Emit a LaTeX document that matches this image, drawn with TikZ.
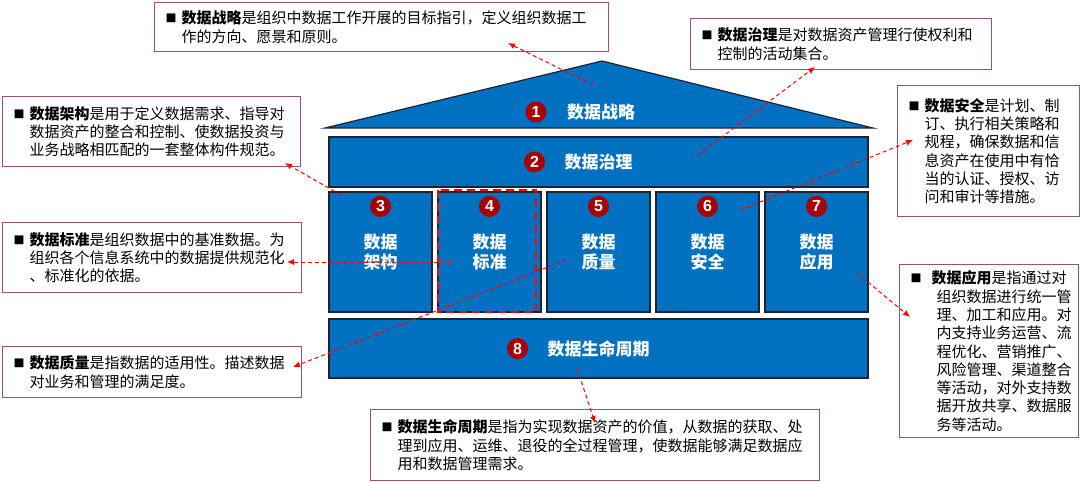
\documentclass[tikz,border=0pt]{standalone}
\usepackage{fontspec}
\setmainfont{Noto Sans CJK SC}
\newfontfamily\numfont{Liberation Sans}
\usetikzlibrary{arrows.meta}
\definecolor{houseblue}{RGB}{0,112,192}
\definecolor{houseline}{RGB}{28,36,52}
\definecolor{ballred}{RGB}{168,0,0}
\definecolor{boxline}{RGB}{150,82,122}
\newcommand{\dbullet}[1][16pt]{\makebox[#1][l]{\raisebox{1pt}{\fontsize{11}{11}\selectfont ■}}}
\newcommand{\descindent}[1][16pt]{\hspace*{#1}}

\begin{document}
\begin{tikzpicture}[x=1pt,y=-1pt,
	block/.style={draw=houseline,line width=1.2pt,fill=houseblue,text=white,font=\fontsize{17}{20}\selectfont\bfseries,inner sep=0pt},
	title/.style={text=white,font=\fontsize{17}{20}\selectfont\bfseries,inner sep=0pt},
	ball/.style={circle,fill=ballred,text=white,font=\numfont\bfseries\fontsize{16}{16}\selectfont,minimum size=21pt,inner sep=0pt},
	desc/.style={draw=boxline,line width=1.2pt,fill=white,anchor=north west,align=left,inner xsep=11pt,inner ysep=0pt,font=\fontsize{15}{18.3}\selectfont},
	link/.style={red,line width=1pt,dash pattern=on 4pt off 3pt,-{Latex[length=7pt,width=6pt]}}]

	\fill[white] (0,0) rectangle (1080,482);
	\useasboundingbox (0,0) rectangle (1080,482);

	% house
	\draw[block] (325,128) coordinate (roofL) -- (602,61) coordinate (roofT) -- (873,128) coordinate (roofR) -- cycle;
	\node[title] (strat) at (601,112) {数据战略};
	\node[ball] (n1) at ([xshift=-65pt]strat.center) {1};

	\node[block,minimum width=539pt,minimum height=50pt] (gov) at (598.5,162) {数据治理};
	\node[ball] (n2) at ([xshift=-64pt]gov.center) {2};

	\node[block,minimum width=103pt,minimum height=120pt,align=center] (arch) at (380.5,252) {数据\\架构};
	\node[block,minimum width=103pt,minimum height=120pt,align=center] (std) at (489.5,252) {数据\\标准};
	\node[block,minimum width=103pt,minimum height=120pt,align=center] (qual) at (598.5,252) {数据\\质量};
	\node[block,minimum width=103pt,minimum height=120pt,align=center] (sec) at (707.5,252) {数据\\安全};
	\node[block,minimum width=103pt,minimum height=120pt,align=center] (app) at (816.5,252) {数据\\应用};
	\node[ball] (n3) at ([yshift=-15pt]arch.north) {3};
	\node[ball] (n4) at ([yshift=-15pt]std.north) {4};
	\node[ball] (n5) at ([yshift=-15pt]qual.north) {5};
	\node[ball] (n6) at ([yshift=-15pt]sec.north) {6};
	\node[ball] (n7) at ([yshift=-15pt]app.north) {7};

	\node[block,minimum width=539pt,minimum height=59pt] (life) at (598.5,348.5) {数据生命周期};
	\node[ball] (n8) at ([xshift=-81pt]life.center) {8};

	\draw[red,line width=2.5pt,dash pattern=on 8pt off 5pt] (438,190) rectangle (536,312);

	% descriptions
	\node[desc,text width=432pt,minimum height=49pt] (stratdesc) at (154,2)
		{\dbullet\textbf{数据战略}是组织中数据工作开展的目标指引，定义组织数据工\\
		\descindent 作的方向、愿景和原则。};
	\node[desc,text width=279pt,minimum height=51pt] (govdesc) at (690,18)
		{\dbullet\textbf{数据治理}是对数据资产管理行使权利和\\
		\descindent 控制的活动集合。};
	\node[desc,text width=276pt,minimum height=70pt] (archdesc) at (2,96)
		{\dbullet\textbf{数据架构}是用于定义数据需求、指导对\\
		\descindent 数据资产的整合和控制、使数据投资与\\
		\descindent 业务战略相匹配的一套整体构件规范。};
	\node[desc,text width=160pt,minimum height=131pt] (secdesc) at (897,85)
		{\dbullet\textbf{数据安全}是计划、制\\
		\descindent 订、执行相关策略和\\
		\descindent 规程，确保数据和信\\
		\descindent 息资产在使用中有恰\\
		\descindent 当的认证、授权、访\\
		\descindent 问和审计等措施。};
	\node[desc,text width=277pt,minimum height=70pt] (stddesc) at (2,222)
		{\dbullet\textbf{数据标准}是组织数据中的基准数据。为\\
		\descindent 组织各个信息系统中的数据提供规范化\\
		\descindent 、标准化的依据。};
	\node[desc,text width=277pt,minimum height=51pt] (qualdesc) at (2,346)
		{\dbullet\textbf{数据质量}是指数据的适用性。描述数据\\
		\descindent 对业务和管理的满足度。};
	\node[desc,text width=157pt,minimum height=173pt] (appdesc) at (899,264)
		{\dbullet[21pt]\textbf{数据应用}是指通过对\\
		\descindent[21pt] 组织数据进行统一管\\
		\descindent[21pt] 理、加工和应用。对\\
		\descindent[21pt] 内支持业务运营、流\\
		\descindent[21pt] 程优化、营销推广、\\
		\descindent[21pt] 风险管理、渠道整合\\
		\descindent[21pt] 等活动，对外支持数\\
		\descindent[21pt] 据开放共享、数据服\\
		\descindent[21pt] 务等活动。};
	\node[desc,text width=427pt,minimum height=71pt] (lifedesc) at (370,409)
		{\dbullet\textbf{数据生命周期}是指为实现数据资产的价值，从数据的获取、处\\
		\descindent 理到应用、运维、退役的全过程管理，使数据能够满足数据应\\
		\descindent 用和数据管理需求。};

	% connectors
	\coordinate (stratP) at (593,85);   \coordinate (stratT) at (508,43);
	\coordinate (govP) at (698,155);    \coordinate (govT) at (815,67);
	\coordinate (archP) at (341,195);   \coordinate (archT) at (285,163);
	\coordinate (secP) at (740,210);    \coordinate (secT) at (913,140);
	\coordinate (stdP) at (452,262);    \coordinate (stdT) at (287,262);
	\coordinate (qualP) at (566,260);   \coordinate (qualT) at (293,367);
	\coordinate (appP) at (857,273);    \coordinate (appT) at (910,317);
	\coordinate (lifeP) at (577,368);   \coordinate (lifeT) at (595,423);
	\draw[link] (stratP) -- (stratT);
	\draw[link] (govP) -- (govT);
	\draw[link] (archP) -- (archT);
	\draw[link] (secP) -- (secT);
	\draw[link] (stdP) -- (stdT);
	\draw[link] (qualP) -- (qualT);
	\draw[link] (appP) -- (appT);
	\draw[link] (lifeP) -- (lifeT);
\end{tikzpicture}
\end{document}
